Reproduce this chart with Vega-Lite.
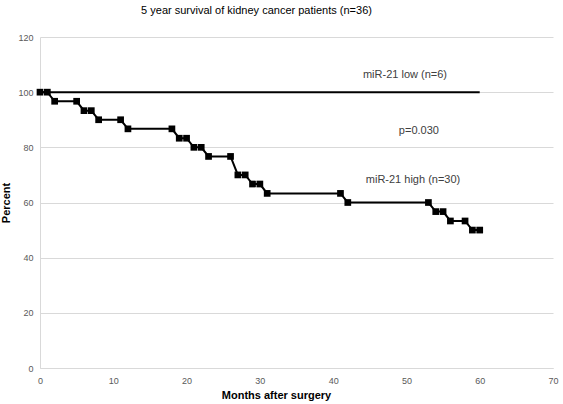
{
  "$schema": "https://vega.github.io/schema/vega-lite/v6.json",
  "autosize": "none",
  "width": 513,
  "height": 331,
  "padding": {"left": 40, "top": 37, "right": 10, "bottom": 36},
  "background": "white",
  "config": {
    "view": {"stroke": null},
    "font": "Liberation Sans",
    "axis": {
      "labelFont": "Liberation Sans",
      "titleFont": "Liberation Sans",
      "labelFontSize": 9,
      "labelColor": "#595959",
      "titleFontSize": 11,
      "titleFontWeight": "bold",
      "titleColor": "#000000",
      "domainColor": "#d9d9d9",
      "gridColor": "#d9d9d9",
      "ticks": false
    }
  },
  "title": {
    "text": "5 year survival of kidney cancer patients (n=36)",
    "font": "Liberation Sans",
    "fontSize": 11,
    "fontWeight": "normal",
    "color": "#000000",
    "anchor": "middle",
    "dx": -40,
    "offset": 17
  },
  "datasets": {
    "high": [
      {"month": 0, "pct": 100},
      {"month": 1, "pct": 100},
      {"month": 2, "pct": 96.7},
      {"month": 5, "pct": 96.7},
      {"month": 6, "pct": 93.3},
      {"month": 7, "pct": 93.3},
      {"month": 8, "pct": 90},
      {"month": 11, "pct": 90},
      {"month": 12, "pct": 86.7},
      {"month": 18, "pct": 86.7},
      {"month": 19, "pct": 83.3},
      {"month": 20, "pct": 83.3},
      {"month": 21, "pct": 80},
      {"month": 22, "pct": 80},
      {"month": 23, "pct": 76.7},
      {"month": 26, "pct": 76.7},
      {"month": 27, "pct": 70},
      {"month": 28, "pct": 70},
      {"month": 29, "pct": 66.7},
      {"month": 30, "pct": 66.7},
      {"month": 31, "pct": 63.3},
      {"month": 41, "pct": 63.3},
      {"month": 42, "pct": 60},
      {"month": 53, "pct": 60},
      {"month": 54, "pct": 56.7},
      {"month": 55, "pct": 56.7},
      {"month": 56, "pct": 53.3},
      {"month": 58, "pct": 53.3},
      {"month": 59, "pct": 50},
      {"month": 60, "pct": 50}
    ],
    "low": [
      {"month": 0, "pct": 100},
      {"month": 60, "pct": 100}
    ],
    "labels": [
      {"month": 49.8, "pct": 106.2, "text": "miR-21 low (n=6)"},
      {"month": 51.7, "pct": 85.8, "text": "p=0.030"},
      {"month": 50.9, "pct": 68.2, "text": "miR-21 high (n=30)"}
    ]
  },
  "layer": [
    {
      "data": {"name": "low"},
      "mark": {"type": "line", "color": "#000000", "strokeWidth": 2},
      "encoding": {
        "x": {
          "field": "month", "type": "quantitative",
          "scale": {"domain": [0, 70], "nice": false},
          "axis": {"values": [0, 10, 20, 30, 40, 50, 60, 70], "grid": false, "labelFlush": false, "labelPadding": 8, "title": "Months after surgery", "titlePadding": 4, "titleX": 236}
        },
        "y": {
          "field": "pct", "type": "quantitative",
          "scale": {"domain": [0, 120], "nice": false},
          "axis": {"values": [0, 20, 40, 60, 80, 100, 120], "grid": true, "labelPadding": 7, "title": "Percent", "titlePadding": 6}
        }
      }
    },
    {
      "data": {"name": "high"},
      "mark": {"type": "line", "color": "#000000", "strokeWidth": 2, "point": {"shape": "square", "filled": true, "size": 45, "color": "#000000", "opacity": 1}},
      "encoding": {
        "x": {"field": "month", "type": "quantitative"},
        "y": {"field": "pct", "type": "quantitative"}
      }
    },
    {
      "data": {"name": "labels"},
      "mark": {"type": "text", "font": "Liberation Sans", "fontSize": 11, "color": "#404040", "align": "center", "baseline": "middle"},
      "encoding": {
        "x": {"field": "month", "type": "quantitative"},
        "y": {"field": "pct", "type": "quantitative"},
        "text": {"field": "text"}
      }
    }
  ]
}
